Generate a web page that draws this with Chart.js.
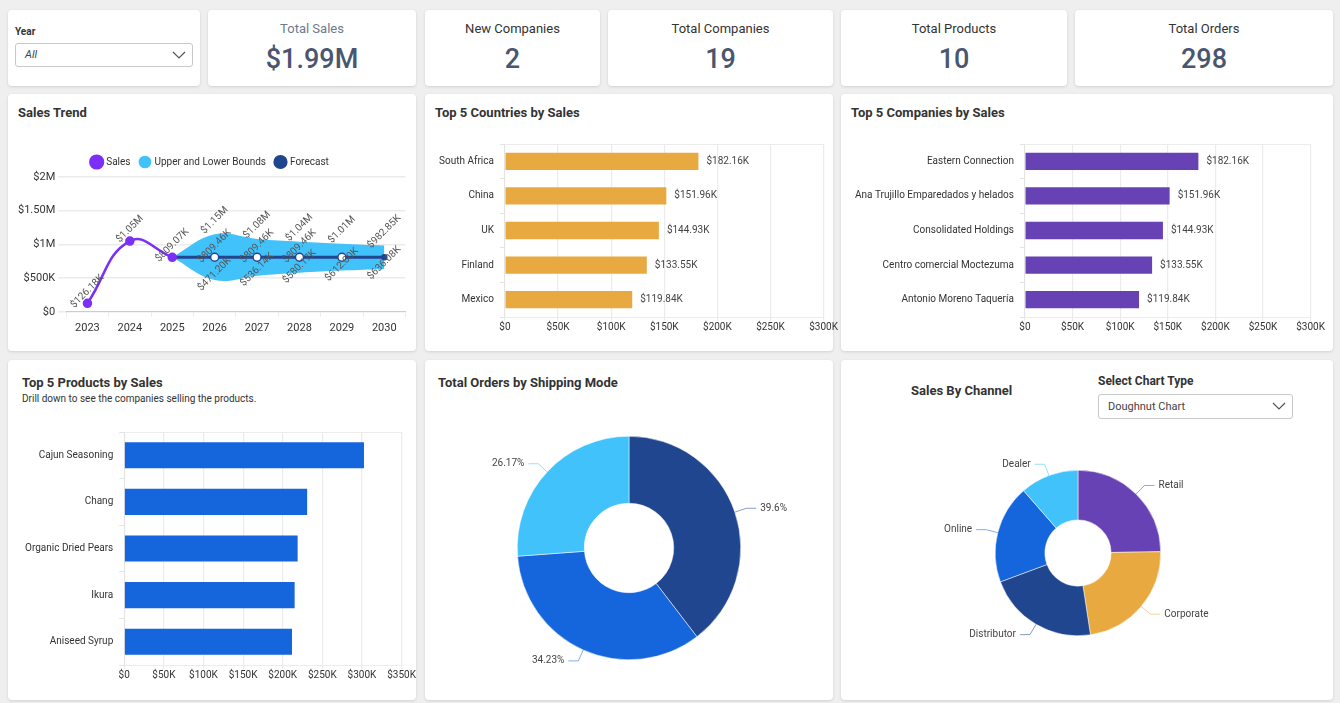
<!DOCTYPE html>
<html>
<head>
<meta charset="utf-8">
<script src="https://cdn.jsdelivr.net/npm/chart.js@4.4.1/dist/chart.umd.min.js"></script>
<style>
  body { margin: 0; width: 1340px; height: 703px; background: #efefef; font-family: Roboto, "Noto Sans", sans-serif; overflow: hidden; position: relative; }
  .card { position: absolute; background: #fff; border-radius: 4px; box-shadow: 0 1px 3px rgba(0,0,0,0.13); }
  .kpi-title { position: absolute; left: 0; right: 0; top: 11px; text-align: center; font-size: 13px; color: #333; }
  .kpi-value { position: absolute; left: 0; right: 0; top: 33px; text-align: center; font-size: 27px; color: #4a5670; font-weight: 500; }
  .title { position: absolute; font-size: 13px; font-weight: bold; color: #333; white-space: nowrap; }
  .sub { position: absolute; font-size: 10px; color: #333; white-space: nowrap; }
  .select { position: absolute; border: 1px solid #c9c9c9; border-radius: 3px; background: #fff; font-size: 11px; color: #444; box-sizing: border-box; padding-left: 9px; }
  .select svg { position: absolute; right: 6px; top: 6px; }
  .box { position: absolute; }
</style>
</head>
<body>

<div class="card" style="left:8px;top:10px;width:192px;height:76px;">
  <div class="sub" style="left:7px;top:16px;font-weight:bold;">Year</div>
  <div class="select" style="left:7px;top:33px;width:178px;height:24px;line-height:22px;font-style:italic;">All
    <svg width="14" height="10"><polyline points="1,2 7,8 13,2" fill="none" stroke="#555" stroke-width="1.2"/></svg></div>
</div>
<div class="card" style="left:208px;top:10px;width:208px;height:76px;">
  <div class="kpi-title" style="color:#6b7a90;">Total Sales</div><div class="kpi-value">$1.99M</div>
</div>
<div class="card" style="left:425px;top:10px;width:175px;height:76px;">
  <div class="kpi-title">New Companies</div><div class="kpi-value">2</div>
</div>
<div class="card" style="left:608px;top:10px;width:225px;height:76px;">
  <div class="kpi-title">Total Companies</div><div class="kpi-value">19</div>
</div>
<div class="card" style="left:841px;top:10px;width:226px;height:76px;">
  <div class="kpi-title">Total Products</div><div class="kpi-value">10</div>
</div>
<div class="card" style="left:1075px;top:10px;width:258px;height:76px;">
  <div class="kpi-title">Total Orders</div><div class="kpi-value">298</div>
</div>

<div class="card" style="left:8px;top:94px;width:408px;height:257px;"></div>
<div class="card" style="left:425px;top:94px;width:408px;height:257px;"></div>
<div class="card" style="left:841px;top:94px;width:492px;height:257px;"></div>
<div class="card" style="left:8px;top:360px;width:408px;height:340px;"></div>
<div class="card" style="left:425px;top:360px;width:408px;height:340px;"></div>
<div class="card" style="left:841px;top:360px;width:492px;height:340px;"></div>

<div class="title" style="left:18px;top:105px;">Sales Trend</div>
<div class="title" style="left:435px;top:105px;">Top 5 Countries by Sales</div>
<div class="title" style="left:851px;top:105px;">Top 5 Companies by Sales</div>
<div class="title" style="left:22px;top:375px;">Top 5 Products by Sales</div>
<div class="sub" style="left:22px;top:393px;">Drill down to see the companies selling the products.</div>
<div class="title" style="left:438px;top:375px;">Total Orders by Shipping Mode</div>
<div class="title" style="left:911px;top:383px;">Sales By Channel</div>
<div class="title" style="left:1098px;top:374px;font-size:12px;">Select Chart Type</div>
<div class="select" style="left:1098px;top:394px;width:195px;height:25px;line-height:23px;">Doughnut Chart
  <svg width="14" height="10"><polyline points="1,2 7,8 13,2" fill="none" stroke="#555" stroke-width="1.2"/></svg></div>

<div class="box" style="left:10px;top:147px;"><canvas id="trend" width="402" height="193"></canvas></div>
<div class="box" style="left:433px;top:132px;"><canvas id="countries" width="405" height="201"></canvas></div>
<div class="box" style="left:849px;top:132px;"><canvas id="companies" width="476" height="201"></canvas></div>
<div class="box" style="left:19px;top:420px;"><canvas id="products" width="397" height="261"></canvas></div>
<div class="box" style="left:425px;top:400px;"><canvas id="shipping" width="408" height="296"></canvas></div>
<div class="box" style="left:900px;top:430px;"><canvas id="channel" width="356" height="246"></canvas></div>

<script>
const years = ['2023', '2024', '2025', '2026', '2027', '2028', '2029', '2030'];
const salesActual = [126180, 1050000, 809070, null, null, null, null, null];
const upperBound = [null, null, 809070, 1150000, 1080000, 1040000, 1010000, 982850];
const lowerBound = [null, null, 809070, 471200, 536140, 580170, 612000, 636080];
const forecast = [null, null, 809070, 809460, 809460, 809460, 809460, 809460];

const countries = ['South Africa', 'China', 'UK', 'Finland', 'Mexico'];
const countrySales = [182160, 151960, 144930, 133550, 119840];

const companies = ['Eastern Connection', 'Ana Trujillo Emparedados y helados', 'Consolidated Holdings', 'Centro comercial Moctezuma', 'Antonio Moreno Taquería'];
const companySales = [182160, 151960, 144930, 133550, 119840];

const products = ['Cajun Seasoning', 'Chang', 'Organic Dried Pears', 'Ikura', 'Aniseed Syrup'];
const productSales = [302500, 230800, 218800, 215000, 211700];

const shipModes = ['Mode 1', 'Mode 2', 'Mode 3'];
const shipShares = [39.6, 34.23, 26.17];

const channels = ['Retail', 'Corporate', 'Distributor', 'Online', 'Dealer'];
const channelShares = [24.7, 22.8, 21.7, 19.2, 11.4];

Chart.defaults.font.family = 'Roboto';
Chart.defaults.font.size = 10;
Chart.defaults.color = '#333';
Chart.defaults.animation = false;

const NAVY = '#1f468f', BLUE = '#1565dc', SKY = '#42c2fb', PURPLE = '#6742b4', GOLD = '#e8aa40', VIOLET = '#7b2ff7';

function money(v) {
  if (v >= 1e6) return '$' + (v / 1e6).toFixed(2) + 'M';
  return '$' + (v / 1000).toFixed(2) + 'K';
}
function tickK(v) {
  return v === 0 ? '$0' : '$' + Math.round(v / 1000) + 'K';
}
function tickM(v) {
  if (v === 0) return '$0';
  if (v >= 1e6) return '$' + (v % 1e6 ? (v / 1e6).toFixed(2) : v / 1e6) + 'M';
  return '$' + v / 1000 + 'K';
}

// rotated value labels on the trend points
const pointLabels = {
  id: 'pointLabels',
  afterDatasetsDraw(chart) {
    const ctx = chart.ctx;
    ctx.save();
    ctx.font = '10px Roboto';
    ctx.fillStyle = '#555';
    ctx.textAlign = 'center';
    ctx.textBaseline = 'middle';
    chart.data.datasets.forEach((ds, di) => {
      const meta = chart.getDatasetMeta(di);
      meta.data.forEach((pt, i) => {
        const v = ds.data[i];
        if (v == null || (ds.hideLabels || []).includes(i)) return;
        ctx.save();
        ctx.translate(pt.x, pt.y + ds.labelShift);
        ctx.rotate(-Math.PI / 4);
        ctx.fillText(money(v), 0, 0);
        ctx.restore();
      });
    });
    ctx.restore();
  }
};

// value at the end of each bar + light line on top of the plot
const barValues = {
  id: 'barValues',
  beforeDraw(chart) {
    const a = chart.chartArea, ctx = chart.ctx;
    ctx.save();
    ctx.strokeStyle = '#ececec';
    ctx.lineWidth = 1;
    ctx.beginPath();
    ctx.moveTo(a.left, a.top + 0.5);
    ctx.lineTo(a.right, a.top + 0.5);
    ctx.stroke();
    ctx.restore();
  },
  afterDatasetsDraw(chart, args, opts) {
    if (!opts.show) return;
    const ctx = chart.ctx;
    ctx.save();
    ctx.font = '10px Roboto';
    ctx.fillStyle = '#444';
    ctx.textBaseline = 'middle';
    chart.getDatasetMeta(0).data.forEach((bar, i) => {
      ctx.fillText(money(chart.data.datasets[0].data[i]), bar.x + 8, bar.y);
    });
    ctx.restore();
  }
};

// outside labels with leader lines for doughnuts
const sliceLabels = {
  id: 'sliceLabels',
  afterDatasetsDraw(chart, args, opts) {
    const ctx = chart.ctx;
    const ds = chart.data.datasets[0];
    ctx.save();
    ctx.font = '10px Roboto';
    ctx.textBaseline = 'middle';
    chart.getDatasetMeta(0).data.forEach((arc, i) => {
      const mid = (arc.startAngle + arc.endAngle) / 2;
      const r = arc.outerRadius;
      const x1 = arc.x + Math.cos(mid) * r, y1 = arc.y + Math.sin(mid) * r;
      const x2 = arc.x + Math.cos(mid) * (r + 12), y2 = arc.y + Math.sin(mid) * (r + 12);
      const right = Math.cos(mid) >= 0;
      const x3 = x2 + (right ? 10 : -10);
      ctx.strokeStyle = ds.backgroundColor[i] + '88';
      ctx.lineWidth = 1;
      ctx.beginPath();
      ctx.moveTo(x1, y1);
      ctx.lineTo(x2, y2);
      ctx.lineTo(x3, y2);
      ctx.stroke();
      ctx.fillStyle = '#444';
      ctx.textAlign = right ? 'left' : 'right';
      const txt = opts.percent ? ds.data[i] + '%' : chart.data.labels[i];
      ctx.fillText(txt, x3 + (right ? 4 : -4), y2);
    });
    ctx.restore();
  }
};

const endPoint = c => c.dataIndex <= 2 || c.dataIndex === 7;

new Chart(document.getElementById('trend'), {
  type: 'line',
  data: {
    labels: years,
    datasets: [
      {
        label: 'Sales', data: salesActual, borderColor: VIOLET, backgroundColor: VIOLET,
        borderWidth: 2.5, tension: 0.45, pointRadius: 3.5, pointBackgroundColor: VIOLET,
        labelShift: -12, hideLabels: [], order: 1
      },
      {
        label: 'Upper and Lower Bounds', data: upperBound, borderWidth: 0, borderColor: SKY,
        backgroundColor: SKY, fill: '+1', tension: 0.4, pointRadius: 0,
        labelShift: -14, hideLabels: [2], order: 3
      },
      {
        label: 'Lower', data: lowerBound, borderWidth: 0, borderColor: SKY, backgroundColor: SKY,
        tension: 0.4, pointRadius: 0, labelShift: -6, hideLabels: [2], order: 4
      },
      {
        label: 'Forecast', data: forecast, borderColor: NAVY, backgroundColor: NAVY,
        borderWidth: 3, tension: 0,
        pointRadius: c => endPoint(c) ? 2.5 : 4,
        pointBackgroundColor: c => endPoint(c) ? NAVY : '#fff',
        pointBorderColor: NAVY, pointBorderWidth: 1.5,
        labelShift: -11, hideLabels: [2, 6, 7], order: 2
      }
    ]
  },
  options: {
    responsive: false,
    layout: { padding: { left: 5, right: 6, top: 0 } },
    plugins: {
      legend: {
        position: 'top',
        labels: {
          usePointStyle: true, pointStyle: 'circle', boxWidth: 9, boxHeight: 9, padding: 10,
          color: '#333', font: { size: 10 },
          filter: item => item.text !== 'Lower',
          sort: (a, b) => a.datasetIndex - b.datasetIndex
        }
      },
      tooltip: { enabled: false }
    },
    scales: {
      x: {
        offset: true,
        grid: { offset: true, color: '#ededed', drawOnChartArea: false, tickLength: 5 },
        border: { color: '#ccc' },
        ticks: { color: '#333', font: { size: 11 }, padding: 5 }
      },
      y: {
        min: 0, max: 2000000,
        ticks: { stepSize: 500000, callback: tickM, color: '#333', font: { size: 11 } },
        grid: { color: '#ebebeb', lineWidth: 1.5 },
        border: { display: false }
      }
    }
  },
  plugins: [pointLabels]
});

function hbar(id, labels, values, color, max, showValues, barPct) {
  return new Chart(document.getElementById(id), {
    type: 'bar',
    data: {
      labels: labels,
      datasets: [{ data: values, backgroundColor: color, borderColor: color, barPercentage: barPct, categoryPercentage: 1 }]
    },
    options: {
      responsive: false,
      indexAxis: 'y',
      layout: { padding: { right: 0 } },
      plugins: { legend: { display: false }, tooltip: { enabled: false }, barValues: { show: showValues } },
      scales: {
        x: {
          min: 0, max: max,
          ticks: { stepSize: 50000, callback: tickK, color: '#333', font: { size: 10 }, maxRotation: 0, autoSkip: false, padding: 0 },
          grid: { color: '#ececec', lineWidth: 1.2, tickLength: 4 },
          border: { color: '#ececec' }
        },
        y: {
          ticks: { color: '#333', font: { size: 10 }, padding: 6 },
          grid: { drawOnChartArea: false, offset: true, tickLength: 5, color: '#e4e4e4' },
          border: { color: '#e4e4e4' }
        }
      }
    },
    plugins: [barValues]
  });
}

hbar('countries', countries, countrySales, GOLD, 300000, true, 0.5);
hbar('companies', companies, companySales, PURPLE, 300000, true, 0.5);
hbar('products', products, productSales, BLUE, 350000, false, 0.56);

function doughnut(id, labels, values, colors, pad, percent) {
  return new Chart(document.getElementById(id), {
    type: 'doughnut',
    data: { labels: labels, datasets: [{ data: values, backgroundColor: colors, borderColor: '#ffffff', borderWidth: 0.5 }] },
    options: {
      responsive: false,
      cutout: '40%',
      layout: { padding: { top: pad, bottom: pad } },
      plugins: { legend: { display: false }, tooltip: { enabled: false }, sliceLabels: { percent: percent } }
    },
    plugins: [sliceLabels]
  });
}

doughnut('shipping', shipModes, shipShares, [NAVY, BLUE, SKY], 36, true);
doughnut('channel', channels, channelShares, [PURPLE, GOLD, NAVY, BLUE, SKY], 40, false);
</script>
</body>
</html>
